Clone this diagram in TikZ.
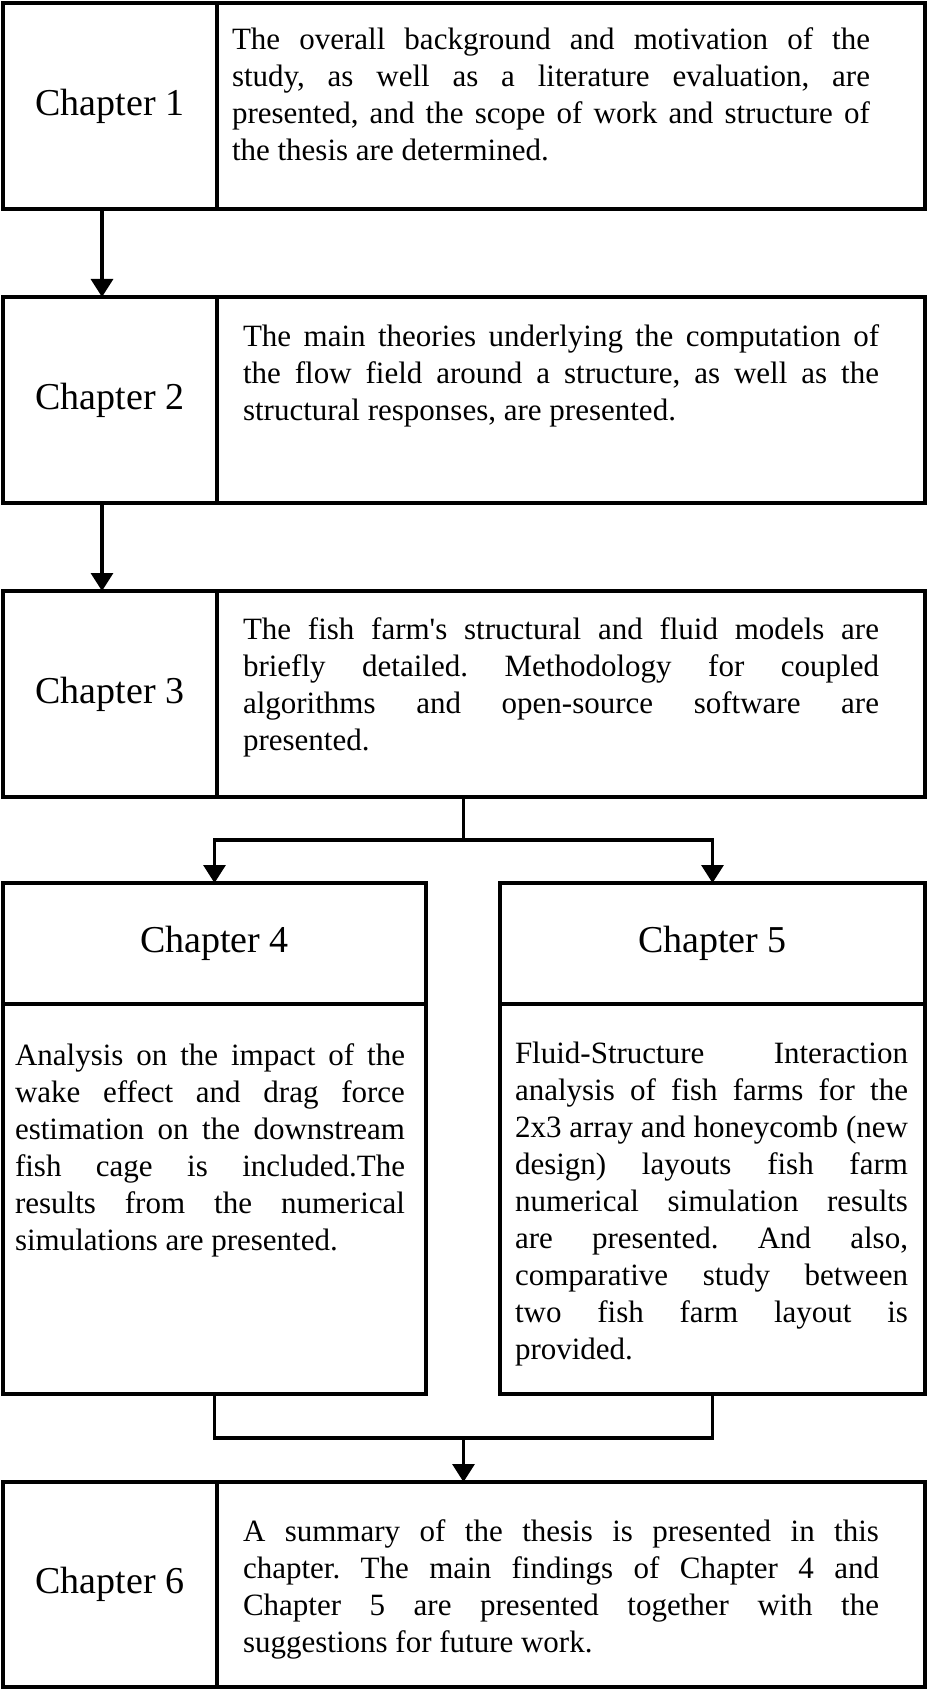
\documentclass[tikz,border=0pt]{standalone}
\usepackage{fontspec}
\setmainfont{Liberation Serif}
\usetikzlibrary{positioning,calc,arrows.meta}
\newlength{\px}\setlength{\px}{0.5pt}
\newcommand{\chapfont}{\fontsize{19pt}{23pt}\selectfont}
\newcommand{\bodyfont}{\fontsize{15.5pt}{18.5pt}\selectfont}
% width, height, top gap, left gap, right gap, text
\newcommand{\blocktext}[6]{\parbox[c][#2][t]{#1}{\bodyfont\frenchspacing
  \tolerance=10000\hyphenpenalty=10000\parindent=0pt
  \leftskip=#4\rightskip=#5\vspace*{#3}#6}}
\tikzstyle{chap} = [rectangle, draw, line width=1.7pt, minimum width=214\px, minimum height=206\px, inner sep=0pt, outer sep=0pt, font=\chapfont]
\tikzstyle{desc} = [rectangle, draw, line width=1.7pt, inner sep=0pt, outer sep=0pt]

\begin{document}
\begin{tikzpicture}[x=1\px, y=-1\px, line width=1.6pt, >={Triangle[length=9pt,width=11pt]}]
    \useasboundingbox (0,0) rectangle (928,1690);

    \node[chap, anchor=north west] (lab1) at (3,3) {Chapter 1};
    \node[desc, right=0pt of lab1] (desc1) {\blocktext{708\px}{206\px}{25\px}{15\px}{55\px}{The overall background and motivation of the\linebreak study, as well as a literature evaluation, are\linebreak presented, and the scope of work and structure of\linebreak the thesis are determined.}};

    \node[chap, below=88\px of lab1] (lab2) {Chapter 2};
    \node[desc, right=0pt of lab2] (desc2) {\blocktext{708\px}{206\px}{28\px}{26\px}{46\px}{The main theories underlying the computation of\linebreak the flow field around a structure, as well as the\linebreak structural responses, are presented.}};

    \node[chap, below=88\px of lab2] (lab3) {Chapter 3};
    \node[desc, right=0pt of lab3] (desc3) {\blocktext{708\px}{206\px}{27\px}{26\px}{46\px}{The fish farm\textquotesingle s structural and fluid models are\linebreak briefly detailed. Methodology for coupled\linebreak algorithms and open-source software are\linebreak presented.}};

    \node[chap, minimum width=423\px, minimum height=121\px, below=86\px of lab3.south west, anchor=north west] (head4) {Chapter 4};
    \node[desc, below=0pt of head4] (body4) {\blocktext{423\px}{390\px}{40\px}{12\px}{21\px}{Analysis on the impact of the\linebreak wake effect and drag force\linebreak estimation on the downstream\linebreak fish cage is included.The\linebreak results from the numerical\linebreak simulations are presented.}};

    \node[chap, minimum width=425\px, minimum height=121\px, right=74\px of head4] (head5) {Chapter 5};
    \node[desc, below=0pt of head5] (body5) {\blocktext{425\px}{390\px}{38\px}{15\px}{17\px}{Fluid-Structure Interaction\linebreak analysis of fish farms for the\linebreak 2x3 array and honeycomb (new\linebreak design) layouts fish farm\linebreak numerical simulation results\linebreak are presented. And also,\linebreak comparative study between\linebreak two fish farm layout is\linebreak provided.}};

    \node[chap, minimum height=205\px, below=88\px of body4.south west, anchor=north west] (lab6) {Chapter 6};
    \node[desc, right=0pt of lab6] (desc6) {\blocktext{708\px}{205\px}{38\px}{26\px}{46\px}{A summary of the thesis is presented in this\linebreak chapter. The main findings of Chapter 4 and\linebreak Chapter 5 are presented together with the\linebreak suggestions for future work.}};

    \path ($(head4.north)!0.5!(head5.north)$) ++(0,-43) coordinate (split);
    \path ($(body4.south)!0.5!(body5.south)$) ++(0,44) coordinate (merge);

    \draw[->] ([xshift=-8\px]lab1.south) -- ([xshift=-8\px]lab2.north);
    \draw[->] ([xshift=-8\px]lab2.south) -- ([xshift=-8\px]lab3.north);
    \draw (split |- lab3.south) -- (split);
    \draw[<->] (head4.north) |- (split) -| (head5.north);
    \draw (body4.south) |- (merge) -| (body5.south);
    \draw[->] (merge) -- (merge |- lab6.north);
\end{tikzpicture}
\end{document}
